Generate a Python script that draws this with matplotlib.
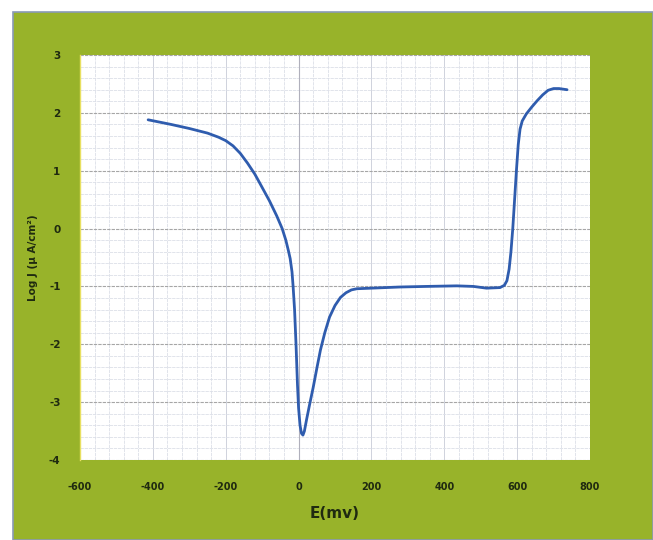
import numpy as np
import matplotlib
matplotlib.use("Agg")
import matplotlib.pyplot as plt
from matplotlib.patches import Rectangle
from matplotlib.ticker import MultipleLocator

# potential (mV) and log current density
E_mv = [-413, -350, -300, -250, -220, -200, -180, -160, -140, -120, -106, -80,
        -60, -45, -35, -28, -23, -18, -15, -11, -7, -3, 0, 4, 8, 12, 16, 22,
        30, 40, 50, 60, 72, 85, 100, 115, 130, 145, 160, 200, 278, 350, 434,
        480, 516, 553, 565, 572, 578, 583, 588, 593, 598, 603, 608, 614, 625,
        640, 655, 670, 685, 700, 715, 737]
log_j = [1.88, 1.80, 1.73, 1.65, 1.58, 1.52, 1.43, 1.30, 1.13, 0.94, 0.78, 0.48,
         0.22, 0.00, -0.20, -0.38, -0.52, -0.75, -1.00, -1.40, -2.00, -2.70, -3.10, -3.40, -3.54, -3.57, -3.50, -3.30,
         -3.05, -2.75, -2.42, -2.10, -1.80, -1.53, -1.33, -1.19, -1.11, -1.06, -1.04, -1.03, -1.01, -1.00, -0.99,
         -1.00, -1.03, -1.02, -0.98, -0.90, -0.70, -0.40, 0.00, 0.50, 1.00, 1.45, 1.72, 1.86, 1.98,
         2.10, 2.21, 2.31, 2.39, 2.42, 2.42, 2.40]

x_ticks = [-600, -400, -200, 0, 200, 400, 600, 800]
y_ticks = [-4, -3, -2, -1, 0, 1, 2, 3]

green = "#98b32a"
dark = "#1f2a10"

fig = plt.figure(figsize=(6.53, 5.40), dpi=100)
fig.patch.set_facecolor("white")
# olive frame behind the chart
frame = Rectangle((13 / 653, 0), 1 - 13 / 653, 1 - 12 / 540,
                  transform=fig.transFigure, facecolor=green,
                  edgecolor="#8a9ab5", linewidth=1.2, zorder=-5)
fig.add_artist(frame)

ax = fig.add_axes([80 / 653, 1 - 460 / 540, 510 / 653, 405 / 540])
ax.set_zorder(2)
ax.set_facecolor("white")
ax.set_xlim(-600, 800)
ax.set_ylim(-4, 3)
ax.xaxis.set_major_locator(MultipleLocator(200))
ax.xaxis.set_minor_locator(MultipleLocator(40))
ax.yaxis.set_major_locator(MultipleLocator(1))
ax.yaxis.set_minor_locator(MultipleLocator(0.2))

ax.grid(which="minor", color="#dcdfe8", linewidth=0.6, linestyle=(0, (4, 1)))
ax.grid(which="major", axis="y", color="#a6a6a6", linewidth=0.8, linestyle=(0, (3, 1)))
ax.grid(which="major", axis="x", color="#cfd2dc", linewidth=0.7, linestyle="-")
ax.axvline(0, color="#b0b0bc", linewidth=0.8, zorder=1)
ax.set_axisbelow(True)

ax.plot(E_mv, log_j, color="#2f5cae", linewidth=2.0, solid_capstyle="round",
        solid_joinstyle="round", zorder=3)

for s in ax.spines.values():
    s.set_visible(False)
ax.spines["left"].set_visible(True)
ax.spines["left"].set_color("#e8e060")
ax.spines["left"].set_linewidth(1.0)

ax.set_xticks(x_ticks)
ax.set_yticks(y_ticks)
ax.set_xticklabels([str(v) for v in x_ticks], fontsize=7, fontweight="bold", color=dark)
ax.set_yticklabels([str(v) for v in y_ticks], fontsize=7.5, fontweight="bold", color=dark)
ax.tick_params(which="both", length=0)
ax.tick_params(axis="x", pad=16)
ax.tick_params(axis="y", pad=14)

ax.set_xlabel("E(mv)", fontsize=11, fontweight="bold", color=dark, labelpad=10)
ax.set_ylabel("Log J (\u03bc A/cm\u00b2)", fontsize=7.5, fontweight="bold", color=dark, labelpad=8)

fig.savefig("out.png", dpi=100)
